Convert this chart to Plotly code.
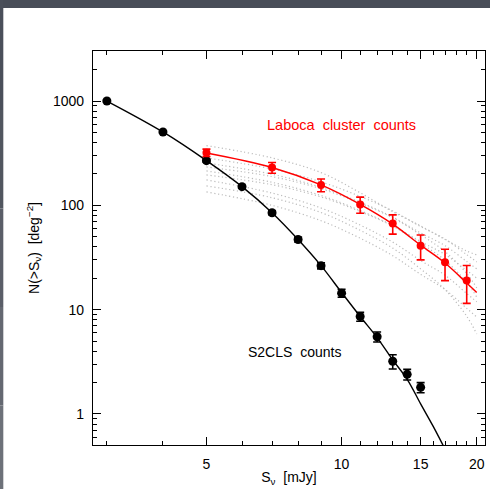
import plotly.graph_objects as go

# S2CLS number counts (black)
s2cls_flux = [3, 4, 5, 6, 7, 8, 9, 10, 11, 12, 13, 14, 15]
s2cls_counts = [1000, 505, 268, 151, 85, 47, 26.4, 14.4, 8.6, 5.5, 3.2, 2.4, 1.8]
s2cls_err = [20, 12, 8, 5, 3.5, 2.5, 1.8, 1.25, 0.85, 0.6, 0.5, 0.28, 0.2]

# S2CLS model curve
s2cls_model_flux = [3, 4, 5, 6, 7, 8, 9, 10, 11, 12, 13, 14, 15, 16, 17]
s2cls_model_counts = [1000, 505, 268, 151, 85, 47, 26.4, 14.6, 8.6, 5.4, 3.3, 2.15, 1.25, 0.76, 0.46]

# LABOCA cluster counts (red)
laboca_flux = [5, 7, 9, 11, 13, 15, 17, 19]
laboca_counts = [320, 230, 157, 102, 67, 41, 28.5, 19]
laboca_err = [26, 27, 22, 18, 14, 11, 9.5, 7.5]

# LABOCA model curve
laboca_model_flux = [5, 7, 9, 11, 13, 15, 17, 19, 20]
laboca_model_counts = [318, 231, 157, 102, 66, 41.5, 28, 18, 14.6]

# Individual cluster realisations (grey dotted)
cluster_flux = [5, 7, 9, 11, 13, 15, 17, 19, 20]
cluster_a = [374, 285, 206, 132, 87.0, 63.5, 47.1, 36.5, 33.5]
cluster_b = [285, 223, 168, 121.7, 88.4, 62.6, 47.5, 33.7, 28.7]
cluster_c = [255, 198.7, 148.8, 107.3, 77.2, 54.4, 41.1, 28.9, 24.6]
cluster_d = [233.4, 188.5, 144.3, 104.7, 76.0, 52.3, 36.0, 22.2, 16.2]
cluster_e = [213.7, 166.2, 124.2, 89.2, 64.0, 45.0, 33.8, 23.8, 20.1]
cluster_f = [195.6, 157.6, 120.4, 87.2, 63.2, 43.3, 29.7, 18.3, 13.2]
cluster_g = [175.2, 131.2, 94.2, 64.7, 44.4, 29.6, 21.4, 14.3, 11.9]
cluster_h = [153.5, 118.3, 85.3, 57.6, 38.9, 24.6, 15.6, 8.66, 5.85]
cluster_i = [134.4, 100.0, 71.2, 48.4, 32.9, 21.8, 15.6, 10.3, 8.51]
cluster_curves = [cluster_a, cluster_b, cluster_c, cluster_d, cluster_e,
                  cluster_f, cluster_g, cluster_h, cluster_i]

# Axis ticks
x_major = [5, 10, 15, 20]
x_major_text = ["5", "10", "15", "20"]
x_minor = [3, 4, 6, 7, 8, 9, 11, 12, 13, 14, 16, 17, 18, 19]
y_major = [1, 10, 100, 1000]
y_major_text = ["1", "10", "100", "1000"]
y_minor = [m * d for d in [0.1, 1, 10, 100, 1000] for m in range(2, 10)]

FONT = "Liberation Sans, Arial, sans-serif"

fig = go.Figure()

for curve in cluster_curves:
    fig.add_trace(go.Scatter(
        x=cluster_flux, y=curve, mode="lines", line_shape="spline",
        line=dict(color="#bcbcbc", width=1.2, dash="1.2px,2.6px"),
        hoverinfo="skip"))

fig.add_trace(go.Scatter(
    x=s2cls_model_flux, y=s2cls_model_counts, mode="lines", line_shape="spline",
    line=dict(color="black", width=1.4)))

fig.add_trace(go.Scatter(
    x=laboca_model_flux, y=laboca_model_counts, mode="lines", line_shape="spline",
    line=dict(color="#ff0000", width=1.5)))

fig.add_trace(go.Scatter(
    x=s2cls_flux, y=s2cls_counts, mode="markers",
    marker=dict(color="black", size=9),
    error_y=dict(type="data", array=s2cls_err, color="black", thickness=1.6, width=4)))

fig.add_trace(go.Scatter(
    x=laboca_flux, y=laboca_counts, mode="markers",
    marker=dict(color="#ff0000", size=8),
    error_y=dict(type="data", array=laboca_err, color="#ff0000", thickness=1.6, width=4)))

# labels inside the plot
fig.add_annotation(x=0.635, y=0.812, xref="paper", yref="paper",
                   xanchor="center", yanchor="middle",
                   text="Laboca  cluster  counts", showarrow=False,
                   font=dict(family=FONT, size=14.5, color="#ff0000"))
fig.add_annotation(x=0.514, y=0.236, xref="paper", yref="paper",
                   xanchor="center", yanchor="middle",
                   text="S2CLS  counts", showarrow=False,
                   font=dict(family=FONT, size=14, color="black"))

# window frame strips (dark top bar, left edge fading lighter downwards)
frame_shapes = [
    dict(x0=-0.3, x1=1.2, y0=1.1091, y1=1.3, color="#484d58"),
    dict(x0=-0.3, x1=-0.2288, y0=0.85, y1=1.3, color="#4a4f5a"),
    dict(x0=-0.3, x1=-0.2288, y0=0.6, y1=0.85, color="#51565f"),
    dict(x0=-0.3, x1=-0.2288, y0=0.35, y1=0.6, color="#5a5e68"),
    dict(x0=-0.3, x1=-0.2288, y0=0.1, y1=0.35, color="#646871"),
    dict(x0=-0.3, x1=-0.2288, y0=-0.3, y1=0.1, color="#6d7179"),
]
for s in frame_shapes:
    fig.add_shape(type="rect", xref="paper", yref="paper",
                  x0=s["x0"], x1=s["x1"], y0=s["y0"], y1=s["y1"],
                  fillcolor=s["color"], line=dict(width=0), layer="above")

axis_common = dict(
    showline=True, linecolor="black", linewidth=1.2, mirror="allticks",
    ticks="inside", tickcolor="black", tickwidth=1.1, ticklen=8,
    showgrid=False, zeroline=False, tickmode="array", automargin=False,
    tickfont=dict(family=FONT, size=14, color="black"),
)

fig.update_layout(
    width=490, height=489,
    margin=dict(l=93, r=5, t=51, b=44),
    paper_bgcolor="white", plot_bgcolor="white",
    showlegend=False,
    font=dict(family=FONT, color="black"),
    xaxis=dict(
        type="log", range=[0.4462, 1.3195],
        tickvals=x_major, ticktext=x_major_text,
        minor=dict(tickmode="array", tickvals=x_minor, ticks="inside",
                   ticklen=4, tickcolor="black", tickwidth=1),
        ticklabelstandoff=6,
        title=dict(text="S<sub>ν</sub>  [mJy]", standoff=1,
                   font=dict(family=FONT, size=14, color="black")),
        **axis_common),
    yaxis=dict(
        type="log", range=[-0.2972, 3.4794],
        tickvals=y_major, ticktext=y_major_text,
        minor=dict(tickmode="array", tickvals=y_minor, ticks="inside",
                   ticklen=4, tickcolor="black", tickwidth=1),
        ticklabelstandoff=5,
        title=dict(text="N(>S<sub>ν</sub>)  [deg<sup>−2</sup>]", standoff=10,
                   font=dict(family=FONT, size=14, color="black")),
        **axis_common),
)

fig.write_html("out.html")
